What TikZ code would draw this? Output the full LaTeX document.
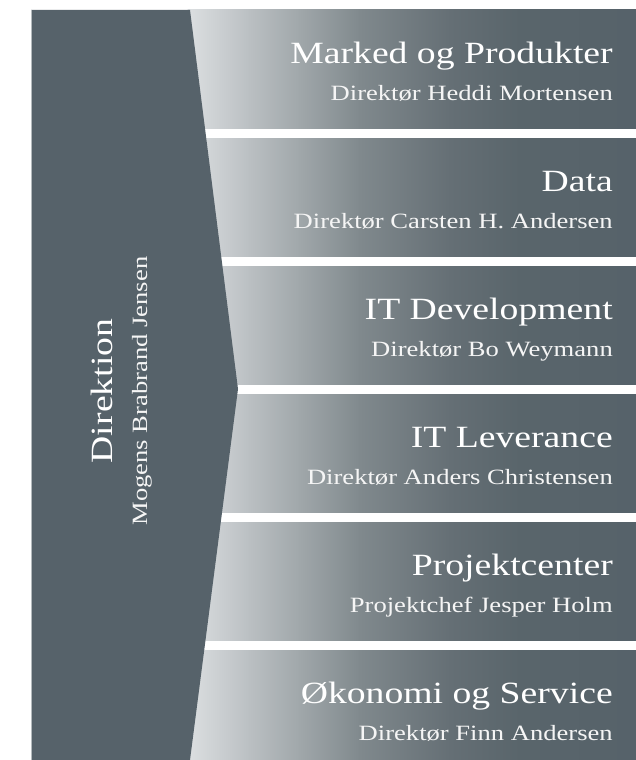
\documentclass[tikz,border=0pt]{standalone}
\usepackage{fontspec}
\setmainfont{Liberation Serif}[FakeStretch=1.22]
\definecolor{panel}{HTML}{56626A}
\definecolor{edgeline}{HTML}{B4BABD}
\definecolor{g0}{HTML}{DCDFE1}
\definecolor{g1}{HTML}{BABFC2}
\definecolor{g2}{HTML}{A0A7AA}
\definecolor{g3}{HTML}{80898D}
\definecolor{g4}{HTML}{656F75}
\definecolor{g5}{HTML}{59656B}
\definecolor{g6}{HTML}{56626A}
\begin{document}
\begin{tikzpicture}[x=1pt,y=-1pt,
  titletext/.style={anchor=base east, inner sep=0pt, text=white, font=\fontsize{30.9}{36}\selectfont},
  subtext/.style={anchor=base east, inner sep=0pt, text=white!96!black, font=\fontsize{21.8}{26}\selectfont},
  gapbar/.style={fill=white, draw=none}]
\useasboundingbox (0,0) rectangle (636,760);
% gradient bars
\foreach \a/\b/\ca/\cb in {188/250/g0/g1, 250/300/g1/g2, 300/360/g2/g3, 360/450/g3/g4, 450/520/g4/g5, 520/636/g5/g6}
  \fill[left color=\ca, right color=\cb] (\a-0.4,10) rectangle (\b+0.4,760);
% white gaps between bars
\foreach \y in {129,257,385,513,641}
  \fill[gapbar] (185,\y) rectangle (637,\y+9);
% left panel
\fill[panel] (31,10) -- (190,10) -- (238,389) -- (190,760) -- (31,760) -- cycle;
\draw[edgeline, line width=0.7pt] (31.35,10) -- (31.35,760);
% texts
\node[titletext] (t1) at (613,63.5) {Marked og Produkter};
\node[subtext] (s1) at (613,100.5) {Direktør Heddi Mortensen};
\node[titletext] (t2) at (613,191.5) {Data};
\node[subtext] (s2) at (613,228.5) {Direktør Carsten H. Andersen};
\node[titletext] (t3) at (613,319.5) {IT Development};
\node[subtext] (s3) at (613,356.5) {Direktør Bo Weymann};
\node[titletext] (t4) at (613,447.5) {IT Leverance};
\node[subtext] (s4) at (613,484.5) {Direktør Anders Christensen};
\node[titletext] (t5) at (613,575.5) {Projektcenter};
\node[subtext] (s5) at (613,612.5) {Projektchef Jesper Holm};
\node[titletext] (t6) at (613,703.5) {Økonomi og Service};
\node[subtext] (s6) at (613,740.5) {Direktør Finn Andersen};
\node[anchor=base, inner sep=0pt, text=white, rotate=90, font=\fontsize{30.9}{36}\selectfont] (direktion) at (112,391) {Direktion};
\node[anchor=base, inner sep=0pt, text=white!96!black, rotate=90, font=\fontsize{21.8}{26}\selectfont] (mogens) at (147,391) {Mogens Brabrand Jensen};
\end{tikzpicture}
\end{document}
